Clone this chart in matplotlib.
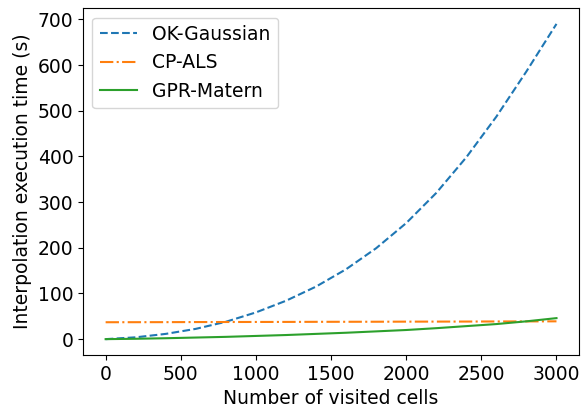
import matplotlib
matplotlib.use("Agg")
import matplotlib.pyplot as plt

cells = [0, 200, 400, 600, 800, 1000, 1200, 1400, 1600, 1800,
         2000, 2200, 2400, 2600, 2800, 3000]
ok_gaussian = [0, 4, 11.5, 22.5, 38, 58.5, 84, 115, 153, 199,
               254, 320, 398, 487, 586, 690]
cp_als = [37, 37.1, 37.2, 37.4, 37.5, 37.6, 37.7, 37.9, 38, 38.1,
          38.3, 38.4, 38.5, 38.7, 38.8, 39]
gpr_matern = [0, 0.8, 2, 3.5, 5, 7, 9, 11.5, 14, 17,
              20, 24, 28.5, 33, 39, 46]

fig = plt.figure(figsize=(5.81, 4.07), dpi=100)
ax = fig.add_axes([0.143, 0.128, 0.8536, 0.852])

ax.plot(cells, ok_gaussian, "--", color="#1f77b4", label="OK-Gaussian")
ax.plot(cells, cp_als, "-.", color="#ff7f0e", label="CP-ALS")
ax.plot(cells, gpr_matern, "-", color="#2ca02c", label="GPR-Matern")

ax.set_xlabel("Number of visited cells", fontsize=13.5)
ax.set_ylabel("Interpolation execution time (s)", fontsize=13.5)
ax.tick_params(labelsize=13.5)
ax.set_xticks([0, 500, 1000, 1500, 2000, 2500, 3000])
ax.legend(fontsize=13.5, loc="upper left")

fig.savefig("out.png", dpi=100)
